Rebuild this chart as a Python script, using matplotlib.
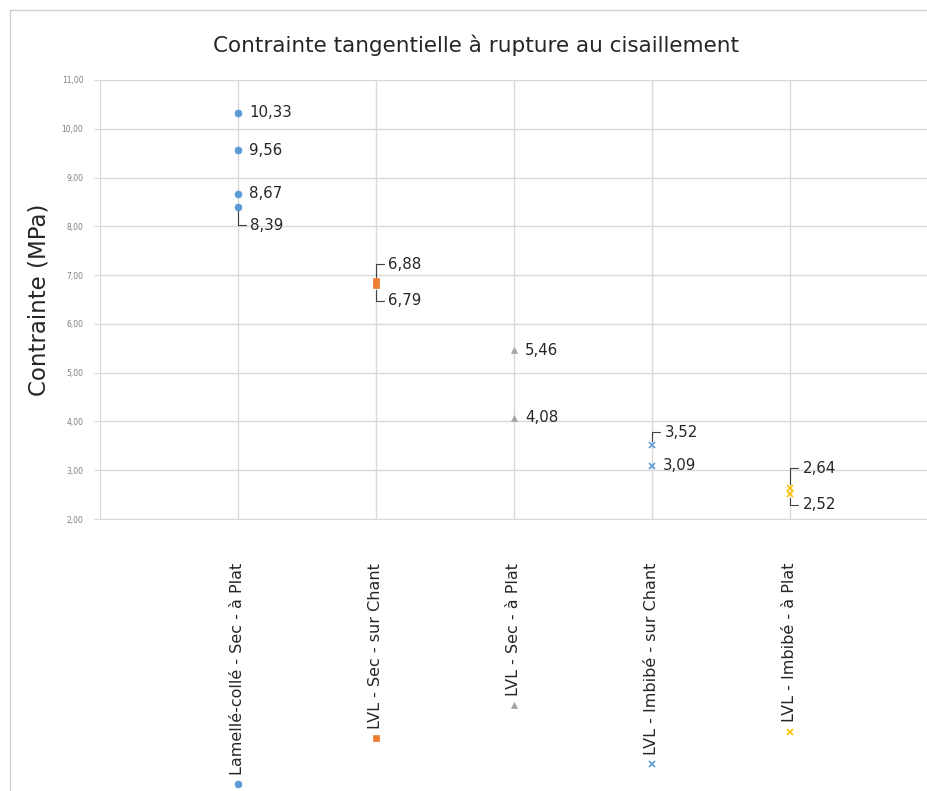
import matplotlib
matplotlib.use('Agg')
import matplotlib.pyplot as plt

plt.rcParams['font.family'] = ['DejaVu Sans']

# données
categories = ['Lamellé-collé - Sec - à Plat', 'LVL - Sec - sur Chant', 'LVL - Sec - à Plat',
              'LVL - Imbibé - sur Chant', 'LVL - Imbibé - à Plat']
lamelle_sec_plat = [10.33, 9.56, 8.67, 8.39]
lvl_sec_chant = [6.88, 6.79]
lvl_sec_plat = [5.46, 4.08]
lvl_imbibe_chant = [3.52, 3.09]
lvl_imbibe_plat = [2.64, 2.52]
yticks = [2, 3, 4, 5, 6, 7, 8, 9, 10, 11]

series = [lamelle_sec_plat, lvl_sec_chant, lvl_sec_plat, lvl_imbibe_chant, lvl_imbibe_plat]
markers = ['o', 's', '^', 'x', 'x']
colors = ['#5B9BD5', '#ED7D31', '#A5A5A5', '#5B9BD5', '#FFC000']
msizes = [5, 5, 4.5, 5, 5]

# décalage des étiquettes (points) ; None = étiquette simple à droite
label_offsets = [
    [None, None, None, (9, -13)],
    [(9, 12), (9, -11)],
    [None, None],
    [(9, 9), None],
    [(9, 14), (9, -8)],
]

fig = plt.figure(figsize=(9.28, 7.91), dpi=100)
fig.patch.set_edgecolor('white')
fig.patch.set_linewidth(0)
ax = fig.add_axes([100 / 928, 1 - 519 / 791, 828 / 928, 439 / 791])

# cadre du graphique (bord gauche et haut seulement, le reste est coupé)
fx, fy = 10 / 928, 1 - 10 / 791
fig.add_artist(plt.Line2D([fx, fx, 0.999], [0.0, fy, fy], transform=fig.transFigure,
                          color='#D0D0D0', lw=1))

for i, (vals, m, c, ms, offs) in enumerate(zip(series, markers, colors, msizes, label_offsets)):
    x = i + 1
    ax.plot([x] * len(vals), vals, linestyle='none', marker=m, color=c,
            markersize=ms, markeredgewidth=1.2 if m == 'x' else 0.5, zorder=3)
    for v, off in zip(vals, offs):
        txt = f'{v:.2f}'.replace('.', ',')
        if off is None:
            ax.annotate(txt, (x, v), xytext=(8, 0), textcoords='offset points',
                        va='center', ha='left', fontsize=10.8, color='#262626')
        else:
            ax.annotate(txt, (x, v), xytext=off, textcoords='offset points',
                        va='center', ha='left', fontsize=10.8, color='#262626',
                        arrowprops=dict(arrowstyle='-', color='#404040', lw=0.8,
                                        connectionstyle='angle,angleA=180,angleB=90,rad=0',
                                        relpos=(0, 0.5), shrinkA=1, shrinkB=3))

ax.set_xlim(0, 6)
ax.set_ylim(2, 11)
ax.set_yticks(yticks)
ax.set_yticklabels([f'{t:.2f}'.replace('.', ',') for t in yticks], fontsize=5.5, color='#7F7F7F')
ax.set_xticks(range(1, 6))
ax.set_xticklabels([])
ax.tick_params(axis='x', length=0)
ax.tick_params(axis='y', length=4, color='#D9D9D9', pad=8)
ax.grid(True, color='#D9D9D9', lw=1)
ax.set_axisbelow(True)
for s in ['top', 'right']:
    ax.spines[s].set_visible(False)
ax.spines['left'].set_color('#D9D9D9')
ax.spines['bottom'].set_color('#D9D9D9')

ax.set_ylabel('Contrainte (MPa)', fontsize=16.5, color='#262626', labelpad=8)
fig.text(476 / 928, 1 - 45 / 791, 'Contrainte tangentielle à rupture au cisaillement',
         ha='center', va='center', fontsize=15.5, color='#262626')

# étiquettes de catégories avec marqueur
texts = []
for i, lab in enumerate(categories):
    t = ax.text(i + 1, -44 / 439, lab, transform=ax.get_xaxis_transform(),
                rotation=90, ha='center', va='top', fontsize=11.5, color='#262626')
    texts.append(t)

fig.canvas.draw()
renderer = fig.canvas.get_renderer()
for i, t in enumerate(texts):
    bb = t.get_window_extent(renderer)
    ymark = bb.y0 - 9
    xd, _ = ax.transData.transform((i + 1, 2))
    fig.add_artist(plt.Line2D([xd / 928], [ymark / 791], transform=fig.transFigure,
                              marker=markers[i], color=colors[i], markersize=msizes[i],
                              markeredgewidth=1.2 if markers[i] == 'x' else 0.5,
                              linestyle='none'))

fig.savefig('out.png', dpi=100)
